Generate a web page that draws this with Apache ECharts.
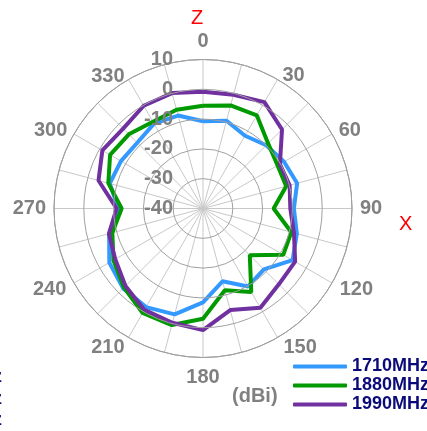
<!DOCTYPE html>
<html>
<head>
<meta charset="utf-8">
<script src="https://cdn.jsdelivr.net/npm/echarts@6/dist/echarts.min.js"></script>
<style>
    html, body { margin: 0; padding: 0; background: #fff; }
    #chart { width: 427px; height: 431px; }
</style>
</head>
<body>
<div id="chart"></div>
<script>
// angles in degrees, gains in dBi
var angles = [0, 15, 30, 45, 60, 75, 90, 105, 120, 135, 150, 165,
    180, 195, 210, 225, 240, 255, 270, 285, 300, 315, 330, 345];
var gain1710 = [-10.7, -9.5, -11.8, -10, -8.6, -7.3, -9.5, -7.4, -5.3, -11.1, -9.8, -14.7,
    -8.5, -3.2, -1.8, -2.1, -3.7, -7.4, -11.6, -7.6, -8.2, -8.8, -7.1, -7.7];
var gain1880 = [-5.5, -4.2, -3.9, -9.1, -11.1, -11.1, -16.3, -9.3, -8.9, -17.8, -7.6, -11.6,
    -3, 0.5, 0.5, -2.5, -5.3, -8.5, -12.7, -7.1, -4, -4.8, -6.4, -5.7];
var gain1990 = [-0.8, -0.5, 1.2, -2.5, -10.2, -9.9, -10.7, -8.4, -4.3, -4, -1.5, -4.7,
    0.8, -0.3, -0.7, -3.2, -6, -7.3, -11, -3.7, -1, -2.1, -0.2, 0.1];
var names = ['1710MHz', '1880MHz', '1990MHz'];
var colors = ['#3399ff', '#009900', '#7030a0'];
var radiusTicks = [-40, -30, -20, -10, 0, 10];
var angleTicks = [0, 30, 60, 90, 120, 150, 180, 210, 240, 270, 300, 330];

// nudges for the angle labels, [top, right, bottom, left]
var labelPad = {
    0: [0, 0, 20, 0], 30: [0, 0, 4, 11], 60: [0, 0, 0, 17],
    90: [0, 0, 0, 20], 120: [2, 0, 0, 18], 150: [10, 0, 0, 12],
    180: [22, 0, 0, 0], 210: [10, 10, 0, 0], 240: [2, 18, 0, 0],
    270: [0, 20, 0, 0], 300: [0, 17, 0, 0], 330: [0, 10, 3, 0]
};

var myChart = echarts.init(document.getElementById('chart'));

// close the loop by repeating the first point at 360
function toPolar(values) {
    var out = [];
    for (var i = 0; i < angles.length; i++) {
        out.push([values[i], angles[i]]);
    }
    out.push([values[0], 360]);
    return out;
}

var allGains = [gain1710, gain1880, gain1990];
var series = allGains.map(function (g, i) {
    return {
        name: names[i],
        type: 'line',
        coordinateSystem: 'polar',
        data: toPolar(g),
        symbol: 'none',
        lineStyle: { width: 4, color: colors[i] },
        itemStyle: { color: colors[i] }
    };
});

var fontFamily = 'Liberation Sans, Arial, sans-serif';
var angleRich = {};
angleTicks.forEach(function (a) {
    angleRich['a' + a] = {
        fontFamily: fontFamily,
        fontWeight: 'bold',
        fontSize: 20,
        color: '#808080',
        padding: labelPad[a]
    };
});

var option = {
    animation: false,
    polar: {
        center: [203, 208.5],
        radius: 149
    },
    angleAxis: {
        type: 'value',
        min: 0,
        max: 360,
        interval: 15,
        startAngle: 90,
        clockwise: true,
        axisLine: { show: true, lineStyle: { color: '#999', width: 1 } },
        axisTick: { show: false },
        splitLine: { show: true, lineStyle: { color: '#c8c8c8', width: 1 } },
        axisLabel: {
            margin: -12,
            rich: angleRich,
            formatter: function (v) {
                return angleTicks.indexOf(v) >= 0 ? '{a' + v + '|' + v + '}' : '';
            }
        }
    },
    radiusAxis: {
        type: 'value',
        min: radiusTicks[0],
        max: radiusTicks[radiusTicks.length - 1],
        interval: 10,
        axisLine: { show: false },
        axisTick: { show: false },
        splitLine: { show: true, lineStyle: { color: '#a0a0a0', width: 1 } },
        axisLabel: {
            margin: 30,
            fontFamily: fontFamily,
            fontWeight: 'bold',
            fontSize: 20,
            color: '#808080',
            padding: [7, 0, 0, 0]
        },
        z: 10
    },
    legend: {
        data: names,
        orient: 'vertical',
        left: 288,
        top: 352,
        itemWidth: 54,
        itemHeight: 4,
        itemGap: 0,
        icon: 'roundRect',
        textStyle: {
            fontFamily: fontFamily,
            fontWeight: 'bold',
            fontSize: 18,
            lineHeight: 19,
            color: '#0a0a78'
        }
    },
    graphic: [
        { type: 'text', left: 191, top: 8, style: { text: 'Z', fill: '#ff0000', font: '20px Liberation Sans' } },
        { type: 'text', left: 399, top: 214, style: { text: 'X', fill: '#ff0000', font: '20px Liberation Sans' } },
        { type: 'text', left: 232, top: 386, style: { text: '(dBi)', fill: '#808080', font: 'bold 20px Liberation Sans' } },
        { type: 'text', x: 2, y: 377, style: { text: '1710MHz', fill: '#0a0a78', font: 'bold 18px Liberation Sans', align: 'right', verticalAlign: 'middle' } },
        { type: 'text', x: 2, y: 399, style: { text: '1880MHz', fill: '#0a0a78', font: 'bold 18px Liberation Sans', align: 'right', verticalAlign: 'middle' } },
        { type: 'text', x: 2, y: 420, style: { text: '1990MHz', fill: '#0a0a78', font: 'bold 18px Liberation Sans', align: 'right', verticalAlign: 'middle' } }
    ],
    series: series
};

myChart.setOption(option);
</script>
</body>
</html>
